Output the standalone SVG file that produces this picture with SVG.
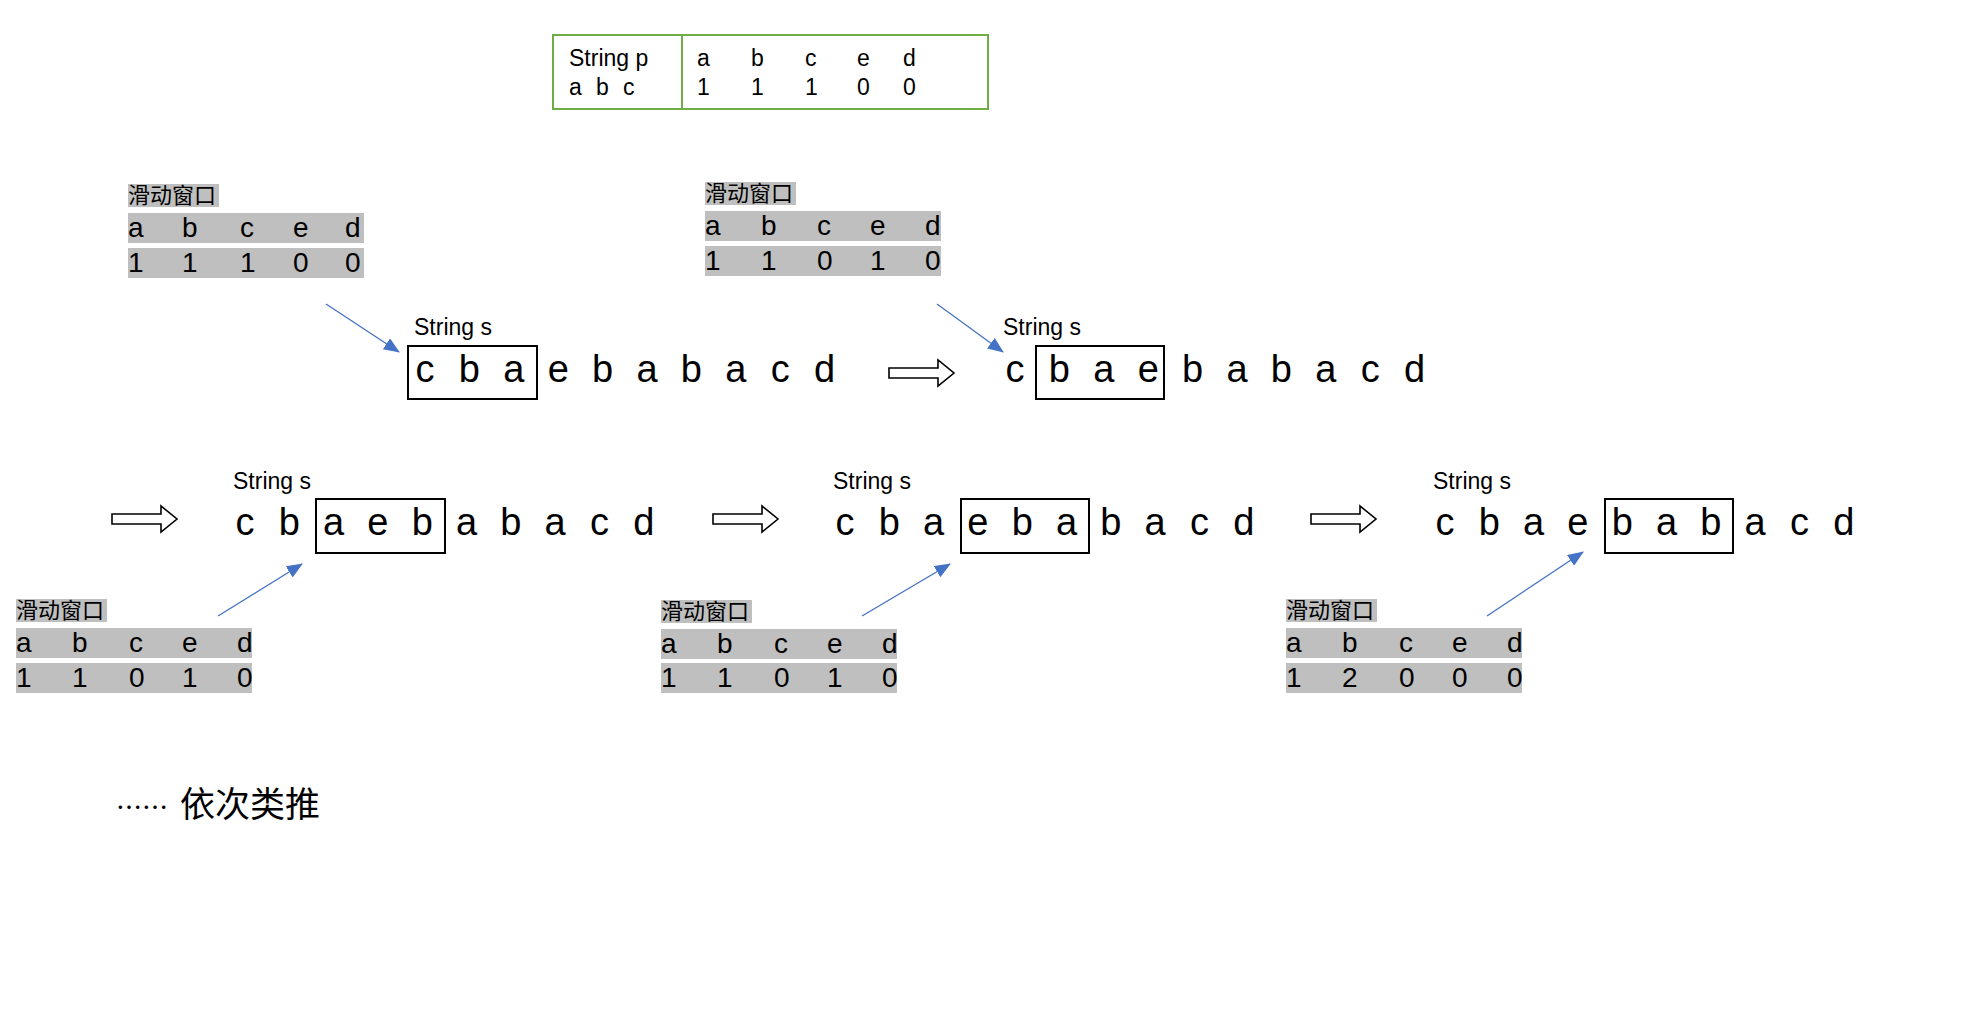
<svg xmlns="http://www.w3.org/2000/svg" width="1981" height="1018" viewBox="0 0 1981 1018">
<style>
text{font-family:"Liberation Sans","Noto Sans CJK SC",sans-serif;fill:#000}
.tp{font-size:23px}
.lbl{font-size:23px}
.cn{font-size:22px;font-family:"Noto Sans CJK SC",sans-serif}
.foot{font-family:"Noto Sans CJK SC",sans-serif}
.cell{font-size:28px}
.big{font-size:38px;text-anchor:middle}
.gray{fill:#BFBFBF}
.box{fill:none;stroke:#000;stroke-width:2}
.hollow{fill:#fff;stroke:#000;stroke-width:1.6;stroke-linejoin:miter}
.conn{stroke:#4472C4;stroke-width:1.3;fill:none}
</style>
<defs>
<marker id="ahb" markerWidth="16" markerHeight="13" refX="15" refY="6.5" orient="auto" markerUnits="userSpaceOnUse" viewBox="0 0 16 13">
<path d="M0,0 L16,6.5 L0,13 z" fill="#4472C4"/>
</marker>
</defs>

<g id="string-p-table">
<rect x="553" y="35" width="435" height="74" fill="none" stroke="#70AD47" stroke-width="2"/>
<line x1="682" y1="35" x2="682" y2="109" stroke="#70AD47" stroke-width="2"/>
<text class="tp" x="569" y="66">String p</text>
<text class="tp" x="569 596 623" y="95">abc</text>
<text class="tp" x="697 751 805 857 903" y="66">abced</text>
<text class="tp" x="697 751 805 857 903" y="95">11100</text>
</g>

<g id="window-1">
<rect class="gray" x="128" y="184" width="91" height="23"/>
<rect class="gray" x="128" y="213" width="236" height="30"/>
<rect class="gray" x="128" y="248" width="236" height="30"/>
<text class="cn" x="128" y="203">滑动窗口</text>
<text class="cell" x="128 182 240 293 345" y="237">abced</text>
<text class="cell" x="128 182 240 293 345" y="272">11100</text>
</g>

<g id="window-2">
<rect class="gray" x="705" y="182" width="91" height="23"/>
<rect class="gray" x="705" y="211" width="236" height="30"/>
<rect class="gray" x="705" y="246" width="236" height="30"/>
<text class="cn" x="705" y="201">滑动窗口</text>
<text class="cell" x="705 761 817 870 925" y="235">abced</text>
<text class="cell" x="705 761 817 870 925" y="270">11010</text>
</g>

<g id="window-3">
<rect class="gray" x="16" y="599" width="91" height="23"/>
<rect class="gray" x="16" y="628" width="236" height="30"/>
<rect class="gray" x="16" y="663" width="236" height="30"/>
<text class="cn" x="16" y="618">滑动窗口</text>
<text class="cell" x="16 72 129 182 237" y="652">abced</text>
<text class="cell" x="16 72 129 182 237" y="687">11010</text>
</g>

<g id="window-4">
<rect class="gray" x="661" y="600" width="91" height="23"/>
<rect class="gray" x="661" y="629" width="236" height="30"/>
<rect class="gray" x="661" y="663" width="236" height="30"/>
<text class="cn" x="661" y="619">滑动窗口</text>
<text class="cell" x="661 717 774 827 882" y="653">abced</text>
<text class="cell" x="661 717 774 827 882" y="687">11010</text>
</g>

<g id="window-5">
<rect class="gray" x="1286" y="599" width="91" height="23"/>
<rect class="gray" x="1286" y="628" width="236" height="30"/>
<rect class="gray" x="1286" y="663" width="236" height="30"/>
<text class="cn" x="1286" y="618">滑动窗口</text>
<text class="cell" x="1286 1342 1399 1452 1507" y="652">abced</text>
<text class="cell" x="1286 1342 1399 1452 1507" y="687">12000</text>
</g>

<g id="string-s-1">
<text class="lbl" x="414" y="335">String s</text>
<rect class="box" x="408" y="346" width="129" height="53"/>
<text class="big" x="425 469.4 513.8 558.2 602.6 647 691.4 735.8 780.2 824.6" y="382">cbaebabacd</text>
</g>

<g id="string-s-2">
<text class="lbl" x="1003" y="335">String s</text>
<rect class="box" x="1036" y="346" width="128" height="53"/>
<text class="big" x="1015 1059.4 1103.8 1148.2 1192.6 1237 1281.4 1325.8 1370.2 1414.6" y="382">cbaebabacd</text>
</g>

<g id="string-s-3">
<text class="lbl" x="233" y="489">String s</text>
<rect class="box" x="316" y="499" width="129" height="54"/>
<text class="big" x="245 289.3 333.6 377.9 422.2 466.5 510.8 555.1 599.4 643.7" y="535">cbaebabacd</text>
</g>

<g id="string-s-4">
<text class="lbl" x="833" y="489">String s</text>
<rect class="box" x="961" y="499" width="128" height="54"/>
<text class="big" x="845 889.3 933.6 977.9 1022.2 1066.5 1110.8 1155.1 1199.4 1243.7" y="535">cbaebabacd</text>
</g>

<g id="string-s-5">
<text class="lbl" x="1433" y="489">String s</text>
<rect class="box" x="1605" y="499" width="128" height="54"/>
<text class="big" x="1445 1489.3 1533.6 1577.9 1622.2 1666.5 1710.8 1755.1 1799.4 1843.7" y="535">cbaebabacd</text>
</g>

<g id="step-arrow-1"><polygon class="hollow" points="889,368 938,368 938,360 954,373 938,386 938,378 889,378"/></g>
<g id="step-arrow-2"><polygon class="hollow" points="112,514 161,514 161,506 177,519 161,532 161,524 112,524"/></g>
<g id="step-arrow-3"><polygon class="hollow" points="713,514 762,514 762,506 778,519 762,532 762,524 713,524"/></g>
<g id="step-arrow-4"><polygon class="hollow" points="1311,514 1360,514 1360,506 1376,519 1360,532 1360,524 1311,524"/></g>

<g id="connectors">
<line class="conn" x1="326" y1="304" x2="399" y2="352" marker-end="url(#ahb)"/>
<line class="conn" x1="937" y1="304" x2="1003" y2="352" marker-end="url(#ahb)"/>
<line class="conn" x1="218" y1="616" x2="302" y2="564" marker-end="url(#ahb)"/>
<line class="conn" x1="862" y1="616" x2="950" y2="564" marker-end="url(#ahb)"/>
<line class="conn" x1="1487" y1="616" x2="1583" y2="552" marker-end="url(#ahb)"/>
</g>

<g id="footer">
<text class="foot" x="116" y="817"><tspan font-size="26">……</tspan><tspan x="180" font-size="35">依次类推</tspan></text>
</g>
</svg>
